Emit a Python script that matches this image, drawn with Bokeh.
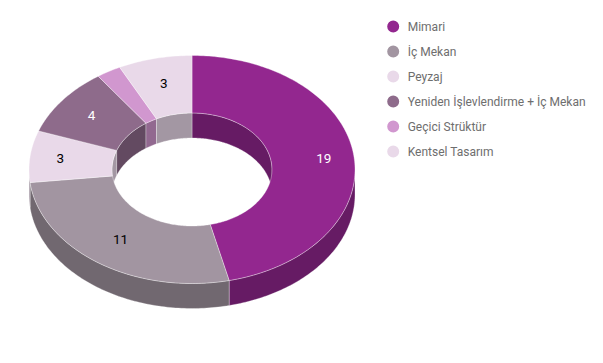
import math
from bokeh.plotting import figure
from bokeh.models import Range1d, ColumnDataSource
from bokeh.core.properties import value
from bokeh.embed import file_html
from bokeh.resources import INLINE

# ---- data ----
categories = ["Mimari", "İç Mekan", "Peyzaj", "Yeniden İşlevlendirme + İç Mekan",
              "Geçici Strüktür", "Kentsel Tasarım"]
values = [19, 11, 3, 4, 1, 3]
colors = ["#93278f", "#a295a1", "#e9d9e9", "#8e6b8b", "#d197cf", "#e9d9e9"]
label_colors = ["#ffffff", "#000000", "#000000", "#ffffff", "#000000", "#000000"]

# ---- layout (screen pixel coordinates) ----
W, H = 587, 347
cx, cy = 191.5, 169.0
rx_out, ry_out = 163.0, 114.0
rx_in, ry_in = 80.0, 56.5
depth = 25.0
ry_lab = 87.0
FONT = "Roboto"


def darken(hex_color, f=0.7):
    h = hex_color.lstrip("#")
    r, g, b = (int(h[i:i + 2], 16) for i in (0, 2, 4))
    return "#%02x%02x%02x" % (int(r * f), int(g * f), int(b * f))


def arc(a0, a1, rx, ry, dy=0.0, n=None):
    if n is None:
        n = max(2, int(abs(a1 - a0) / 1.0) + 2)
    xs, ys = [], []
    for i in range(n):
        a = math.radians(a0 + (a1 - a0) * i / (n - 1))
        xs.append(cx + rx * math.sin(a))
        ys.append(cy - ry * math.cos(a) + dy)
    return xs, ys


def overlap(a0, a1, b0, b1):
    lo, hi = max(a0, b0), min(a1, b1)
    return (lo, hi) if hi > lo else None


total = float(sum(values))
starts, ends = [], []
acc = 0.0
for v in values:
    starts.append(acc)
    acc += v / total * 360.0
    ends.append(acc)

p = figure(width=W, height=H, output_backend="svg", toolbar_location=None,
           x_range=Range1d(0, W), y_range=Range1d(H, 0),
           min_border=0, outline_line_color=None, background_fill_color="white",
           border_fill_color="white")
p.axis.visible = False
p.grid.visible = False

# ---- walls ----
wall_xs, wall_ys, wall_c = [], [], []
for a0, a1, c in zip(starts, ends, colors):
    side = darken(c)
    # outer front wall (visible between 90 and 270 deg)
    ov = overlap(a0, a1, 90.0, 270.0)
    if ov:
        x1, y1 = arc(ov[0], ov[1], rx_out, ry_out)
        x2, y2 = arc(ov[1], ov[0], rx_out, ry_out, dy=depth)
        wall_xs.append(x1 + x2)
        wall_ys.append(y1 + y2)
        wall_c.append(side)
    # inner back wall (visible between 270 and 450 deg)
    for b0, b1 in ((-90.0, 90.0), (270.0, 450.0)):
        ov = overlap(a0, a1, b0, b1)
        if ov:
            x1, y1 = arc(ov[0], ov[1], rx_in, ry_in)
            x2, y2 = arc(ov[1], ov[0], rx_in, ry_in, dy=depth)
            wall_xs.append(x1 + x2)
            wall_ys.append(y1 + y2)
            wall_c.append(side)

p.patches(xs="xs", ys="ys", fill_color="c", line_color="white", line_alpha=0.3,
          line_width=1,
          source=ColumnDataSource(dict(xs=wall_xs, ys=wall_ys, c=wall_c)))

# ---- top faces ----
top_xs, top_ys = [], []
for a0, a1 in zip(starts, ends):
    x1, y1 = arc(a0, a1, rx_out, ry_out)
    x2, y2 = arc(a1, a0, rx_in, ry_in)
    top_xs.append(x1 + x2)
    top_ys.append(y1 + y2)
p.patches(xs="xs", ys="ys", fill_color="c", line_color="white", line_alpha=0.35,
          line_width=1,
          source=ColumnDataSource(dict(xs=top_xs, ys=top_ys, c=colors)))

# ---- slice labels ----
lx, ly, lt, lc = [], [], [], []
for a0, a1, v, c in zip(starts, ends, values, label_colors):
    if a1 - a0 < 10.0:
        continue
    m = math.radians((a0 + a1) / 2.0)
    s = math.sin(m)
    rx_lab = 124.0 + 9.0 * s ** 6
    lx.append(cx + rx_lab * s)
    ly.append(cy - 1.5 - ry_lab * math.cos(m))
    lt.append(str(v))
    lc.append(c)
p.text(x="x", y="y", text="t", text_color="c", text_align="center",
       text_baseline="middle", text_font=value(FONT), text_font_size="13.5px",
       source=ColumnDataSource(dict(x=lx, y=ly, t=lt, c=lc)))

# ---- legend ----
leg_x, leg_y0, leg_dy = 392.7, 26.0, 25.0
ly2 = [leg_y0 + i * leg_dy for i in range(len(categories))]
p.scatter(x=[leg_x] * len(categories), y=ly2, size=12, marker="circle",
          fill_color=colors, line_color=None)
p.text(x=[leg_x + 14.5] * len(categories), y=ly2, text=categories,
       text_color="#6e6e6e", text_align="left", text_baseline="middle",
       text_font=value(FONT), text_font_size="12px")

open("out.html", "w").write(file_html(p, INLINE))
